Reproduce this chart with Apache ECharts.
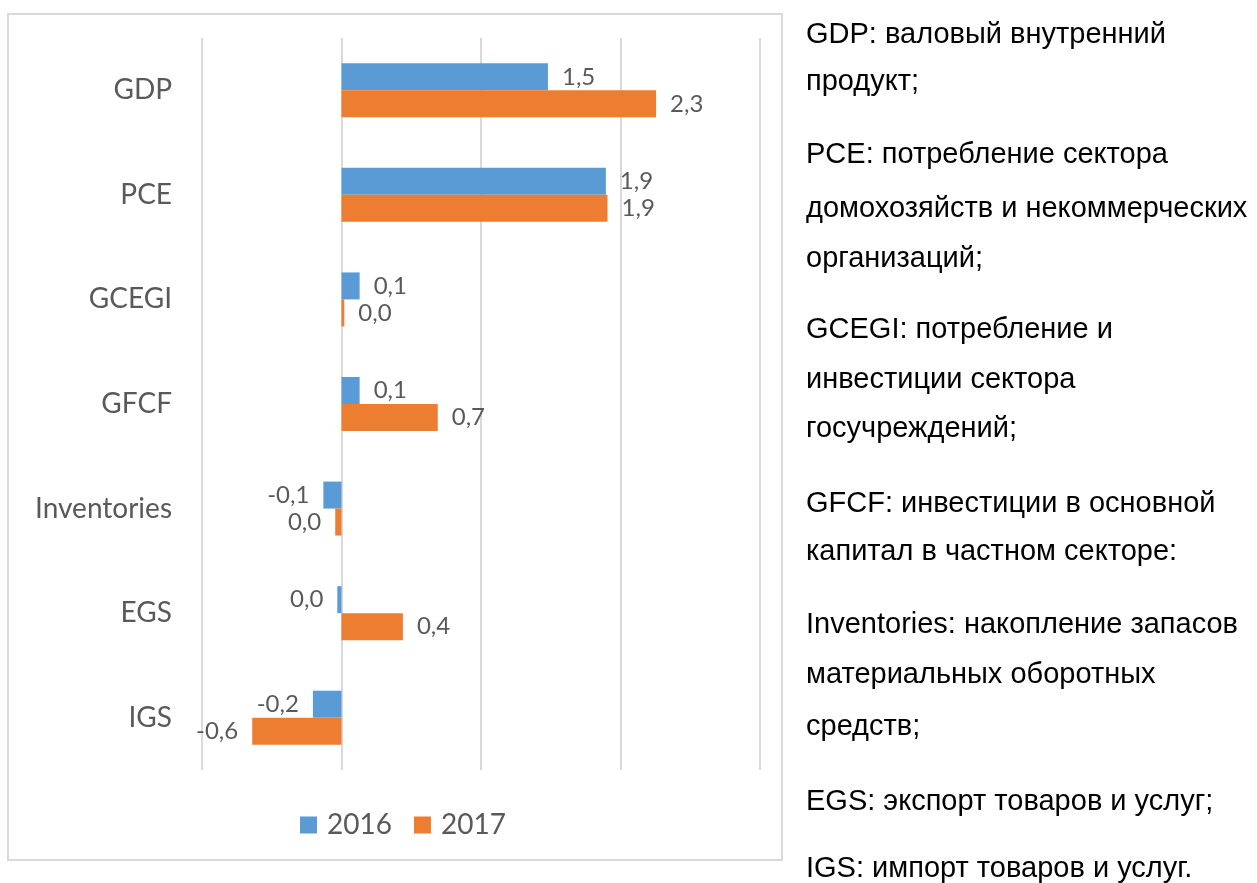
<!DOCTYPE html>
<html>
<head>
<meta charset="utf-8">
<script src="https://cdn.jsdelivr.net/npm/echarts@6/dist/echarts.min.js"></script>
<style>
  html, body { margin: 0; padding: 0; background: #fff; overflow: hidden; }
  #chart { position: absolute; left: 0; top: 0; width: 1257px; height: 883px; }
  .note { position: absolute; left: 806px; font-family: "Liberation Sans", Arial, sans-serif;
          font-size: 29px; line-height: 29px; color: #000; white-space: nowrap; }
</style>
</head>
<body>
<div id="chart"></div>
<div class="note" style="top:19px">GDP: валовый внутренний</div>
<div class="note" style="top:66px">продукт;</div>
<div class="note" style="top:139px">PCE: потребление сектора</div>
<div class="note" style="top:193px">домохозяйств и некоммерческих</div>
<div class="note" style="top:243px">организаций;</div>
<div class="note" style="top:314px">GCEGI: потребление и</div>
<div class="note" style="top:364px">инвестиции сектора</div>
<div class="note" style="top:413px">госучреждений;</div>
<div class="note" style="top:488px">GFCF: инвестиции в основной</div>
<div class="note" style="top:536px">капитал в частном секторе:</div>
<div class="note" style="top:609px">Inventories: накопление запасов</div>
<div class="note" style="top:659px">материальных оборотных</div>
<div class="note" style="top:711px">средств;</div>
<div class="note" style="top:786px">EGS: экспорт товаров и услуг;</div>
<div class="note" style="top:853px">IGS: импорт товаров и услуг.</div>
<script>
// вклад в рост ВВП, п.п.
const categories = ['GDP', 'PCE', 'GCEGI', 'GFCF', 'Inventories', 'EGS', 'IGS'];
const values2016 = [1.48, 1.895, 0.13, 0.13, -0.13, -0.03, -0.205];
const values2017 = [2.255, 1.907, 0.02, 0.69, -0.045, 0.44, -0.64];
const seriesNames = ['2016', '2017'];
const xTicks = { min: -1, max: 3, interval: 1 };

const textColor = '#595959';
const font = 'Lato, "Open Sans", sans-serif';

function fmt(v) {
    let s = v.toFixed(1);
    if (s === '-0.0') s = '0.0';
    return s.replace('.', ',');
}

function toItems(arr) {
    return arr.map(v => ({
        value: v,
        label: { position: v < 0 ? 'left' : 'right' }
    }));
}

const myChart = echarts.init(document.getElementById('chart'));

const labelStyle = {
    show: true,
    distance: 14,
    color: textColor,
    fontFamily: font,
    fontSize: 24,
    formatter: p => fmt(p.value)
};

const option = {
    animation: false,
    graphic: [{
        type: 'rect',
        shape: { x: 8, y: 14, width: 774, height: 846 },
        style: { fill: 'none', stroke: '#d9d9d9', lineWidth: 2 },
        z: -1
    }],
    grid: { left: 202, top: 38, width: 558, height: 732 },
    legend: {
        data: seriesNames,
        left: 295,
        top: 806,
        itemWidth: 17,
        itemHeight: 17,
        itemGap: 22,
        icon: 'rect',
        textStyle: { color: textColor, fontFamily: font, fontSize: 28, padding: [0, 0, 0, 5] }
    },
    xAxis: {
        type: 'value',
        min: xTicks.min,
        max: xTicks.max,
        interval: xTicks.interval,
        axisLabel: { show: false },
        axisLine: { show: false },
        axisTick: { show: false },
        splitLine: { show: true, lineStyle: { color: '#d9d9d9', width: 2 } }
    },
    yAxis: {
        type: 'category',
        data: categories,
        inverse: true,
        axisLine: { show: false, onZero: false },
        axisTick: { show: false },
        axisLabel: { margin: 30, color: textColor, fontFamily: font, fontSize: 28 }
    },
    series: [
        {
            name: seriesNames[0],
            type: 'bar',
            barWidth: 27,
            barGap: '0%',
            itemStyle: { color: '#5B9BD5' },
            label: labelStyle,
            data: toItems(values2016)
        },
        {
            name: seriesNames[1],
            type: 'bar',
            barWidth: 27,
            barGap: '0%',
            itemStyle: { color: '#ED7D31' },
            label: labelStyle,
            data: toItems(values2017)
        }
    ]
};

myChart.setOption(option);
window.addEventListener('resize', () => myChart.resize());
</script>
</body>
</html>
